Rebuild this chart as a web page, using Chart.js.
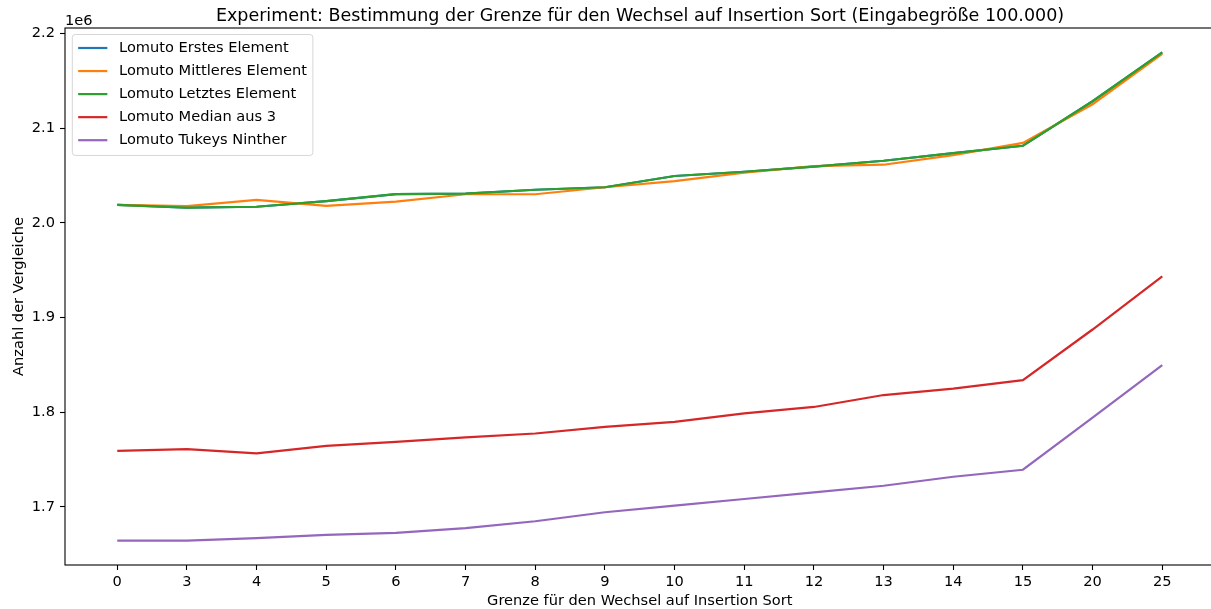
<!DOCTYPE html>
<html>
<head>
<meta charset="utf-8">
<script src="https://cdn.jsdelivr.net/npm/chart.js@4/dist/chart.umd.min.js"></script>
<style>
  html, body { margin: 0; padding: 0; overflow: hidden; background: #ffffff; }
  #wrap { width: 1280px; height: 609px; }
</style>
</head>
<body>
<div id="wrap"><canvas id="c" width="1280" height="609"></canvas></div>
<script>
// Insertion-sort cutoff used inside quicksort (x axis categories)
const thresholds = ['0', '3', '4', '5', '6', '7', '8', '9', '10', '11', '12', '13', '14', '15', '20', '25'];

// Number of comparisons per pivot strategy, input size 100.000
const lomutoFirst  = [2018900, 2016100, 2017000, 2023000, 2030400, 2030800, 2035000, 2037600, 2049500, 2054000, 2059300, 2065600, 2073700, 2081400, 2128400, 2180000];
const lomutoMiddle = [2018900, 2017600, 2024200, 2017900, 2022400, 2030200, 2030200, 2037600, 2044000, 2053000, 2060000, 2061400, 2071600, 2084500, 2125300, 2178600];
const lomutoLast   = [2018900, 2016100, 2017000, 2023000, 2030400, 2030800, 2035000, 2037600, 2049500, 2054000, 2059300, 2065600, 2073700, 2081400, 2128400, 2180000];
const lomutoMedian3 = [1759300, 1761100, 1756500, 1764500, 1768700, 1773400, 1777600, 1784500, 1789800, 1798900, 1805600, 1818200, 1825000, 1834000, 1887400, 1943500];
const lomutoNinther = [1664500, 1664500, 1667100, 1670500, 1672600, 1677600, 1684900, 1694400, 1701400, 1708400, 1715500, 1722400, 1731900, 1739300, 1794400, 1849800];

const seriesNames = ['Lomuto Erstes Element', 'Lomuto Mittleres Element', 'Lomuto Letztes Element', 'Lomuto Median aus 3', 'Lomuto Tukeys Ninther'];
const yTickValues = [1700000, 1800000, 1900000, 2000000, 2100000, 2200000];

const palette = ['#1f77b4', '#ff7f0e', '#2ca02c', '#d62728', '#9467bd'];
const FONT = 'DejaVu Sans';
const FS = 14.6;

Chart.defaults.font.family = FONT;
Chart.defaults.font.size = FS;
Chart.defaults.color = '#000000';

const allSeries = [lomutoFirst, lomutoMiddle, lomutoLast, lomutoMedian3, lomutoNinther];

// axis limits with a 5% margin around the data
const flat = allSeries.flat();
const yLo = Math.min(...flat), yHi = Math.max(...flat);
const yPad = 0.05 * (yHi - yLo);
const n = thresholds.length;
const xPad = 0.05 * (n - 1);

// later series are painted on top of earlier ones
const datasets = allSeries.map((vals, k) => ({
  label: seriesNames[k],
  data: vals.map((v, i) => ({ x: i, y: v })),
  order: allSeries.length - k,
  borderColor: palette[k],
  backgroundColor: palette[k],
  borderWidth: 2.2,
  pointRadius: 0,
  pointHoverRadius: 0,
  tension: 0,
  fill: false
}));

// frame, offset label and boxed legend in the upper-left corner of the plot
const decorations = {
  id: 'decorations',
  afterDraw(chart) {
    const { ctx, chartArea: a } = chart;
    ctx.save();

    // axes frame
    ctx.strokeStyle = '#000000';
    ctx.lineWidth = 1.1;
    ctx.strokeRect(a.left, a.top, a.right - a.left, a.bottom - a.top);

    // scale factor of the y axis
    ctx.fillStyle = '#000000';
    ctx.font = `${FS}px "${FONT}"`;
    ctx.textAlign = 'left';
    ctx.textBaseline = 'alphabetic';
    ctx.fillText('1e6', a.left, a.top - 3);

    // legend
    const items = [...chart.data.datasets];
    const pad = 0.4 * FS, handleLen = 2 * FS, gap = 0.8 * FS, rowH = 23.05;
    const bx = a.left + 0.5 * FS, by = a.top + 6.5;
    const textW = Math.max(...items.map(d => ctx.measureText(d.label).width));
    const bw = pad * 2 + handleLen + gap + textW;
    const bh = rowH * items.length + 2 * pad - 6;
    const r = 0.2 * FS;

    ctx.beginPath();
    ctx.moveTo(bx + r, by);
    ctx.arcTo(bx + bw, by, bx + bw, by + bh, r);
    ctx.arcTo(bx + bw, by + bh, bx, by + bh, r);
    ctx.arcTo(bx, by + bh, bx, by, r);
    ctx.arcTo(bx, by, bx + bw, by, r);
    ctx.closePath();
    ctx.fillStyle = 'rgba(255,255,255,0.8)';
    ctx.fill();
    ctx.strokeStyle = 'rgba(204,204,204,0.8)';
    ctx.lineWidth = 1;
    ctx.stroke();

    ctx.textBaseline = 'middle';
    items.forEach((d, i) => {
      const cy = a.top + 20 + rowH * i;
      const hx = bx + pad;
      ctx.beginPath();
      ctx.moveTo(hx, cy);
      ctx.lineTo(hx + handleLen, cy);
      ctx.strokeStyle = d.borderColor;
      ctx.lineWidth = 2.2;
      ctx.stroke();
      ctx.fillStyle = '#000000';
      ctx.fillText(d.label, hx + handleLen + gap, cy + 0.5);
    });

    ctx.restore();
  }
};

new Chart(document.getElementById('c'), {
  type: 'line',
  data: { datasets },
  plugins: [decorations],
  options: {
    responsive: false,
    animation: false,
    events: [],
    layout: { padding: 0 },
    plugins: {
      legend: { display: false },
      tooltip: { enabled: false },
      title: {
        display: true,
        text: 'Experiment: Bestimmung der Grenze für den Wechsel auf Insertion Sort (Eingabegröße 100.000)',
        font: { family: FONT, size: 17.5, weight: 'normal', lineHeight: 1.2 },
        color: '#000000',
        padding: { top: 6, bottom: 1 }
      }
    },
    scales: {
      x: {
        type: 'linear',
        position: 'bottom',
        min: -xPad,
        max: (n - 1) + xPad,
        afterBuildTicks(scale) { scale.ticks = thresholds.map((_, i) => ({ value: i })); },
        afterFit(scale) { scale.height = 44; },
        ticks: {
          autoSkip: false,
          maxRotation: 0,
          padding: 3.5,
          color: '#000000',
          callback: (v, i) => thresholds[i]
        },
        grid: { display: true, drawOnChartArea: false, drawTicks: true, tickLength: 5, tickWidth: 1.1, tickColor: '#000000' },
        border: { display: false },
        title: {
          display: true,
          text: 'Grenze für den Wechsel auf Insertion Sort',
          color: '#000000',
          font: { family: FONT, size: FS, lineHeight: 1.05 },
          padding: { top: 0, bottom: 0 }
        }
      },
      y: {
        type: 'linear',
        position: 'left',
        min: yLo - yPad,
        max: yHi + yPad,
        afterBuildTicks(scale) { scale.ticks = yTickValues.map(v => ({ value: v })); },
        afterFit(scale) { scale.width = 65; },
        ticks: {
          padding: 5,
          color: '#000000',
          callback: v => (v / 1e6).toFixed(1)
        },
        grid: { display: true, drawOnChartArea: false, drawTicks: true, tickLength: 5, tickWidth: 1.1, tickColor: '#000000' },
        border: { display: false },
        title: {
          display: true,
          text: 'Anzahl der Vergleiche',
          color: '#000000',
          font: { family: FONT, size: FS, lineHeight: 1.2 },
          padding: { top: 10, bottom: 0 }
        }
      },
      spacer: {
        type: 'linear',
        position: 'right',
        afterFit(scale) { scale.width = 65.5; },
        ticks: { display: false },
        grid: { display: false },
        border: { display: false }
      }
    }
  }
});
</script>
</body>
</html>
